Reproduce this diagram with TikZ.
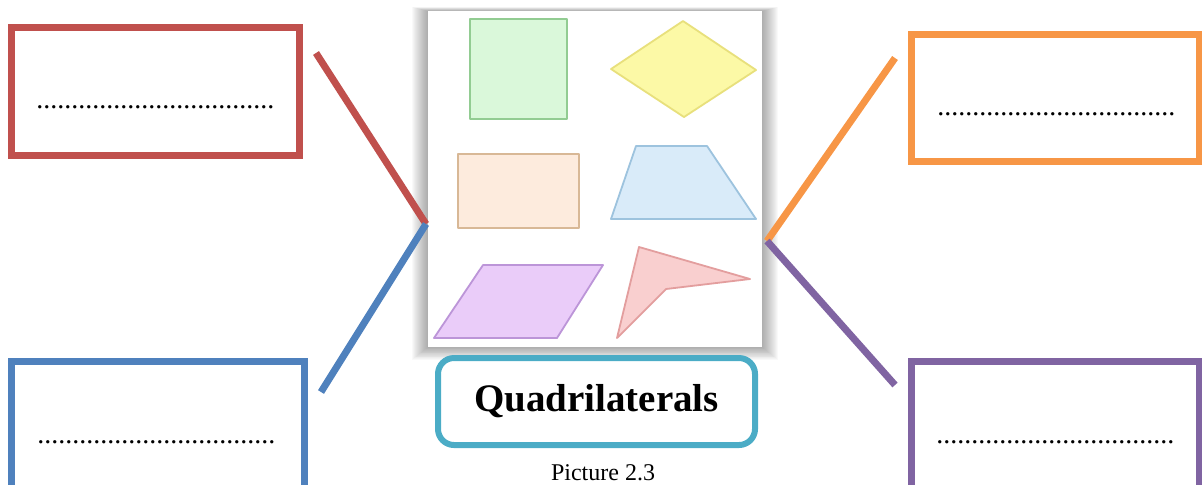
\documentclass[tikz,border=0pt]{standalone}
\usepackage{fontspec}
\setmainfont{Liberation Serif}
\usepackage{tikz}

\definecolor{boxred}{HTML}{C0504D}
\definecolor{boxblue}{HTML}{4F81BD}
\definecolor{boxorange}{HTML}{F79646}
\definecolor{boxpurple}{HTML}{8064A2}
\definecolor{boxaqua}{HTML}{4BACC6}
\definecolor{sqfill}{HTML}{DAF8DA}
\definecolor{sqline}{HTML}{92CC92}
\definecolor{rhfill}{HTML}{FCF9A6}
\definecolor{rhline}{HTML}{E8E07C}
\definecolor{refill}{HTML}{FDEBDD}
\definecolor{reline}{HTML}{D8B896}
\definecolor{trfill}{HTML}{D9EBF9}
\definecolor{trline}{HTML}{9DC3DE}
\definecolor{pafill}{HTML}{EACCF9}
\definecolor{paline}{HTML}{BC95D8}
\definecolor{drfill}{HTML}{F9CFCF}
\definecolor{drline}{HTML}{E39E9E}

\tikzset{
  answer/.style={draw=#1, line width=3.5pt, inner sep=0pt, minimum width=144pt},
  dotline/.style={anchor=base west, inner sep=0pt, font=\fontsize{14}{16}\selectfont},
  link/.style={line width=3.5pt},
  quad/.style 2 args={draw=#1, fill=#2, line width=0.9pt, line join=round}
}

\newcommand{\blanks}{..................................}

\begin{document}
\begin{tikzpicture}[x=0.5pt, y=-0.5pt]
  \useasboundingbox (0,0) rectangle (1202,484);

  % answer boxes
  \node[answer=boxred, minimum height=63.75pt] (redbox) at (155.25,91.25) {};
  \node[answer=boxblue, minimum width=146.25pt, minimum height=79pt] (bluebox) at (157.75,440) {};
  \node[answer=boxorange, minimum height=63.75pt] (orangebox) at (1055.5,97.75) {};
  \node[answer=boxpurple, minimum height=79pt] (purplebox) at (1055.5,440) {};

  \node[dotline] (reddots) at (36,108) {\blanks};
  \node[dotline] (bluedots) at (37,443) {\blanks};
  \node[dotline] (orangedots) at (937,115) {\blanks};
  \node[dotline] (purpledots) at (936,443) {\blanks};

  % picture with soft shadow
  \foreach \s in {1,...,16}
    \fill[black, opacity=0.022] (428-\s,11-\s/4) rectangle (762+\s,347+\s*0.8);
  \node[fill=white, inner sep=0pt, minimum width=167pt, minimum height=168pt] (pic) at (595,179) {};

  \draw[quad={sqline}{sqfill}] (470,19) rectangle (567,119);
  \draw[quad={rhline}{rhfill}] (611,69) -- (683,21) -- (756,70) -- (684,117) -- cycle;
  \draw[quad={reline}{refill}] (458,154) rectangle (579,228);
  \draw[quad={trline}{trfill}] (636,146) -- (707,146) -- (756,219) -- (611,219) -- cycle;
  \draw[quad={paline}{pafill}] (483,265) -- (603,265) -- (557,338) -- (434,338) -- cycle;
  \draw[quad={drline}{drfill}] (639,247) -- (750,279) -- (666,289) -- (617,338) -- cycle;

  % connectors
  \coordinate (redend) at (316,53);
  \coordinate (blueend) at (321,392);
  \coordinate (orangeend) at (895,58);
  \coordinate (purpleend) at (895,385);
  \coordinate (leftjoin) at (426,224);
  \coordinate (rightjoin) at (767,241);
  \draw[link, boxred] (redend) -- (leftjoin);
  \draw[link, boxblue] (leftjoin) -- (blueend);
  \draw[link, boxorange] (orangeend) -- (rightjoin);
  \draw[link, boxpurple] (rightjoin) -- (purpleend);

  % title
  \node[draw=boxaqua, line width=3pt, rounded corners=8pt, minimum width=158.5pt,
        minimum height=43.5pt, font=\fontsize{19.5}{22}\selectfont\bfseries] (title) at (596.5,401.5) {Quadrilaterals};
  \node[font=\fontsize{12}{14}\selectfont, anchor=base] (caption) at (603,480) {Picture 2.3};
\end{tikzpicture}
\end{document}
